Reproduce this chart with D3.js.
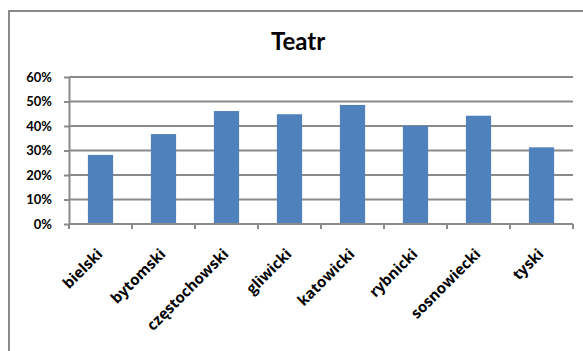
<!DOCTYPE html>
<html lang="pl">
<head>
    <meta charset="UTF-8">
    <script src="https://cdnjs.cloudflare.com/ajax/libs/d3/7.9.0/d3.min.js"></script>
    <title>Teatr</title>
    <style>
        body { margin: 0; background: white; font-family: Lato, "Open Sans", sans-serif; }
        svg { display: block; }
    </style>
</head>
<body>
    <div id="chart"></div>
    <script>
        const title = "Teatr";
        const categories = ["bielski", "bytomski", "częstochowski", "gliwicki", "katowicki", "rybnicki", "sosnowiecki", "tyski"];
        const values = [0.282, 0.367, 0.461, 0.448, 0.486, 0.401, 0.442, 0.313];
        const yTicks = [0, 0.1, 0.2, 0.3, 0.4, 0.5, 0.6];

        const width = 583;
        const height = 351;
        const margin = { top: 77, right: 10, bottom: 127, left: 69 };

        const svg = d3.select("#chart")
            .append("svg")
            .attr("width", width)
            .attr("height", height);

        // chart frame (only left and top edges are visible)
        svg.append("rect")
            .attr("x", 9).attr("y", 11)
            .attr("width", 620).attr("height", 400)
            .attr("fill", "none")
            .attr("stroke", "#8a8a8a")
            .attr("stroke-width", 2);

        svg.append("text")
            .attr("x", 298).attr("y", 50)
            .attr("text-anchor", "middle")
            .attr("font-size", 24)
            .attr("font-weight", "bold")
            .text(title);

        const x = d3.scaleBand()
            .domain(categories)
            .range([margin.left, 573])
            .paddingInner(0.6)
            .paddingOuter(0.3);

        const y = d3.scaleLinear()
            .domain([0, 0.6])
            .range([height - margin.bottom, margin.top]);

        // gridlines
        svg.append("g")
            .selectAll("line")
            .data(yTicks.slice(1))
            .join("line")
            .attr("x1", margin.left).attr("x2", 573)
            .attr("y1", d => y(d)).attr("y2", d => y(d))
            .attr("stroke", "#8a8a8a")
            .attr("stroke-width", 2);

        // bars
        svg.append("g")
            .selectAll("rect")
            .data(values)
            .join("rect")
            .attr("x", (d, i) => x(categories[i]))
            .attr("y", d => y(d))
            .attr("width", x.bandwidth())
            .attr("height", d => y(0) - y(d))
            .attr("fill", "#4f81bd");

        // y axis
        const yAxis = d3.axisLeft(y)
            .tickValues(yTicks)
            .tickFormat(d3.format(".0%"))
            .tickSize(5)
            .tickSizeOuter(0)
            .tickPadding(12);

        const yg = svg.append("g")
            .attr("transform", `translate(${margin.left},0)`)
            .call(yAxis);
        yg.selectAll("line, path").attr("stroke", "#8a8a8a").attr("stroke-width", 2);
        yg.selectAll("text")
            .attr("font-family", "Lato, sans-serif")
            .attr("font-size", 13)
            .attr("font-weight", "bold")
            .attr("fill", "#000");

        // x axis with ticks at band edges
        const step = x.step();
        const edges = d3.range(categories.length + 1).map(i => x(categories[0]) - x.bandwidth() * 0.75 + i * step);
        const xg = svg.append("g");
        xg.append("line")
            .attr("x1", margin.left).attr("x2", 573)
            .attr("y1", y(0)).attr("y2", y(0))
            .attr("stroke", "#8a8a8a").attr("stroke-width", 2);
        xg.selectAll("line.tick")
            .data(edges)
            .join("line")
            .attr("class", "tick")
            .attr("x1", d => d).attr("x2", d => d)
            .attr("y1", y(0)).attr("y2", y(0) + 5)
            .attr("stroke", "#8a8a8a").attr("stroke-width", 2);

        xg.selectAll("text")
            .data(categories)
            .join("text")
            .attr("transform", d => `translate(${x(d) + x.bandwidth() / 2 + 3},${y(0) + 31}) rotate(-45)`)
            .attr("text-anchor", "end")
            .attr("font-family", "'Open Sans', sans-serif")
            .attr("font-size", 15)
            .attr("font-weight", "bold")
            .text(d => d);
    </script>
</body>
</html>
